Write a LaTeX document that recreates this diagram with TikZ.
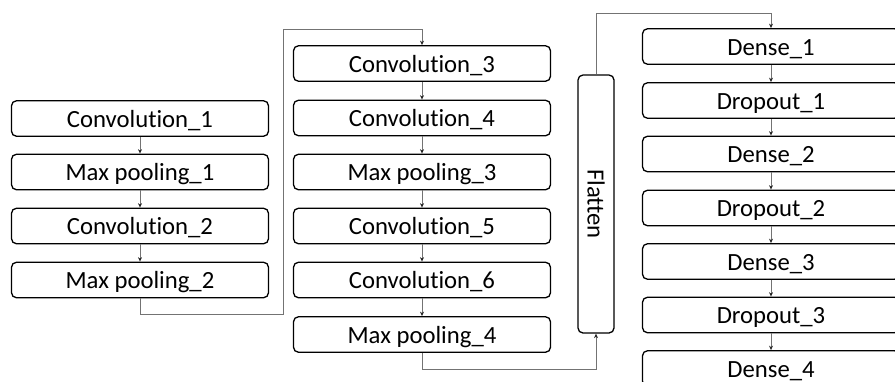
\documentclass[tikz,border=0pt]{standalone}
\usepackage{fontspec}
\setmainfont[Ligatures={NoCommon}]{Carlito}
\usetikzlibrary{arrows.meta}
\tikzset{
  layer/.style={draw=black, line width=1.3pt, rounded corners=5pt, fill=white,
    minimum width=257pt, minimum height=35.5pt, inner sep=0pt,
    text height=17pt, text depth=0pt,
    font=\fontsize{24.7}{30}\selectfont},
  flat/.style={draw=black, line width=1.3pt, rounded corners=5pt, fill=white,
    minimum width=258pt, minimum height=36pt, inner sep=0pt,
    text height=17pt, text depth=0pt, rotate=-90,
    font=\fontsize{24.7}{30}\selectfont},
  link/.style={draw=black!55, line width=0.8pt,
    -{Stealth[length=4.5pt,width=4pt,color=black!85]}}
}
\begin{document}
\begin{tikzpicture}[x=1pt,y=-1pt]
\useasboundingbox (0,0) rectangle (895,381);
\clip (0,0) rectangle (895,381);

% first block
\node[layer] (a1) at (140,118.5) {Convolution\_1};
\node[layer] (a2) at (140,172)   {Max pooling\_1};
\node[layer] (a3) at (140,226)   {Convolution\_2};
\node[layer] (a4) at (140,280)   {Max pooling\_2};

% second block
\node[layer] (b1) at (422,63.5)  {Convolution\_3};
\node[layer] (b2) at (422,118)   {Convolution\_4};
\node[layer] (b3) at (422,172)   {Max pooling\_3};
\node[layer] (b4) at (422,226)   {Convolution\_5};
\node[layer] (b5) at (422,280)   {Convolution\_6};
\node[layer] (b6) at (422,334.5) {Max pooling\_4};

% flatten (rotated: west is the top end, east the bottom end)
\node[flat] (fl) at (596,204) {Flatten};

% dense block
\node[layer] (d1) at (771,46.5)  {Dense\_1};
\node[layer] (d2) at (771,100.5) {Dropout\_1};
\node[layer] (d3) at (771,154)   {Dense\_2};
\node[layer] (d4) at (771,208)   {Dropout\_2};
\node[layer] (d5) at (771,261.5) {Dense\_3};
\node[layer] (d6) at (771,315)   {Dropout\_3};
\node[layer] (d7) at (771,368.5) {Dense\_4};

% in-column links
\foreach \u/\v in {a1/a2,a2/a3,a3/a4,b1/b2,b2/b3,b3/b4,b4/b5,b5/b6,d1/d2,d2/d3,d3/d4,d4/d5,d5/d6,d6/d7}
  \draw[link] (\u.south) -- (\v.north);

% routes between columns
\coordinate (j1) at (283,314);
\coordinate (j2) at (283,29);
\draw[link] (a4.south) |- (j1) -- (j2) -| (b1.north);

\coordinate (j3) at (596,369);
\draw[link] (b6.south) |- (j3) -- (fl.east);

\coordinate (j4) at (596,13);
\draw[link] (fl.west) -- (j4) -| (d1.north);
\end{tikzpicture}
\end{document}
